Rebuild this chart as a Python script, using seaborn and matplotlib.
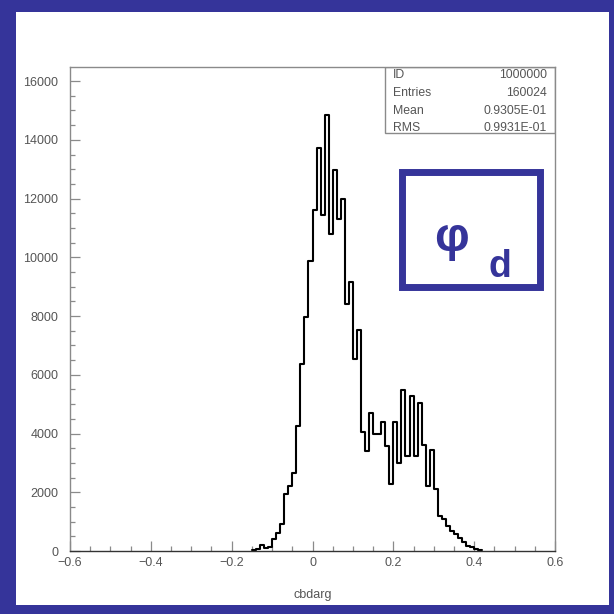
import numpy as np
import pandas as pd
import matplotlib
matplotlib.use("Agg")
import matplotlib.pyplot as plt
from matplotlib.patches import Rectangle
from matplotlib.ticker import MultipleLocator
import seaborn as sns

# histogram contents: 0.01 wide bins, first bin starts at first_edge
first_edge = -0.15
bin_width = 0.01
counts = [
    20, 70, 220, 90, 150, 400, 600, 920, 1930, 2220,
    2670, 4240, 6370, 7960, 9860, 11600, 13730, 11430, 14850, 10780,
    12960, 11300, 12000, 8420, 9160, 6540, 7540, 4040, 3390, 4690,
    3980, 3980, 4400, 3580, 2280, 4380, 2980, 5490, 3240, 5270,
    3240, 5040, 3620, 2220, 3440, 2100, 1190, 1080, 860, 680,
    570, 440, 290, 180, 120, 60, 20,
]

stat_labels = ["ID", "Entries", "Mean", "RMS"]
stat_values = ["1000000", "160024", "0.9305E-01", "0.9931E-01"]

x_ticks = [-0.6, -0.4, -0.2, 0.0, 0.2, 0.4, 0.6]
x_tick_labels = ["\u22120.6", "\u22120.4", "\u22120.2", "0", "0.2", "0.4", "0.6"]
y_ticks = [0, 2000, 4000, 6000, 8000, 10000, 12000, 14000, 16000]
y_tick_labels = [str(v) for v in y_ticks]
x_label = "cbdarg"
tag_main = "\u03c6"
tag_sub = "d"

BLUE = "#35349a"
GREY = "#8a8a8a"
TXT = "#555555"

sns.set_style("white")
plt.rcParams["font.family"] = ["Liberation Sans", "DejaVu Sans"]

fig = plt.figure(figsize=(6.14, 6.14), dpi=100)
fig.patch.set_facecolor(BLUE)
fig.add_artist(Rectangle((16 / 614, 9 / 614), 593 / 614, 593 / 614,
                         transform=fig.transFigure, facecolor="white",
                         edgecolor="none", zorder=-1))

ax = fig.add_axes([70 / 614, 63 / 614, 485 / 614, 484 / 614])
ax.set_facecolor("white")

edges = first_edge + bin_width * np.arange(len(counts) + 1)
hist_df = pd.DataFrame({"x": (edges[:-1] + edges[1:]) / 2, "n": counts})
sns.histplot(data=hist_df, x="x", weights="n", bins=list(edges), element="step",
             fill=False, color="black", linewidth=1.5, ax=ax)

ax.set_xlim(-0.6, 0.6)
ax.set_ylim(0, 16480)
ax.set_xticks(x_ticks)
ax.set_xticklabels(x_tick_labels)
ax.set_yticks(y_ticks)
ax.set_yticklabels(y_tick_labels)
ax.xaxis.set_minor_locator(MultipleLocator(0.05))
ax.yaxis.set_minor_locator(MultipleLocator(500))
ax.tick_params(which="both", bottom=True, left=True, top=False, right=False)
ax.tick_params(which="major", direction="in", length=7, width=0.9, color=GREY,
               labelsize=9, labelcolor=TXT)
ax.tick_params(which="minor", direction="in", length=3.5, width=0.9, color=GREY)
ax.tick_params(axis="y", pad=8.5)
ax.tick_params(axis="x", pad=4.5)
ax.set_xlabel(x_label, fontsize=9, color=TXT, labelpad=14)
ax.set_ylabel("")
for side, sp in ax.spines.items():
    sp.set_visible(True)
    sp.set_color(GREY)
    sp.set_linewidth(1.0)
ax.spines["bottom"].set_color("#333333")

# stats box
ax.add_patch(Rectangle((0.6495, 0.8636), 1 - 0.6495, 1 - 0.8636, transform=ax.transAxes,
                       fill=False, edgecolor=GREY, linewidth=1.0, zorder=5))
row_y = [0.983, 0.946, 0.909, 0.874]
for lab, val, yy in zip(stat_labels, stat_values, row_y):
    ax.text(0.666, yy, lab, transform=ax.transAxes, ha="left", va="center",
            fontsize=8.8, color=TXT)
    ax.text(0.9835, yy, val, transform=ax.transAxes, ha="right", va="center",
            fontsize=8.8, color=TXT)

# phi_d tag
fig.add_artist(Rectangle((401.5 / 614, 1 - 286.5 / 614), 138 / 614, 115 / 614,
                         transform=fig.transFigure, fill=False, edgecolor=BLUE,
                         linewidth=5, zorder=6))
fig.text(452 / 614, 1 - 239 / 614, tag_main, ha="center", va="center", fontsize=35,
         fontweight="bold", color=BLUE)
fig.text(489 / 614, 1 - 277 / 614, tag_sub, ha="left", va="baseline", fontsize=27,
         fontweight="bold", color=BLUE)

fig.savefig("out.png", dpi=100)
